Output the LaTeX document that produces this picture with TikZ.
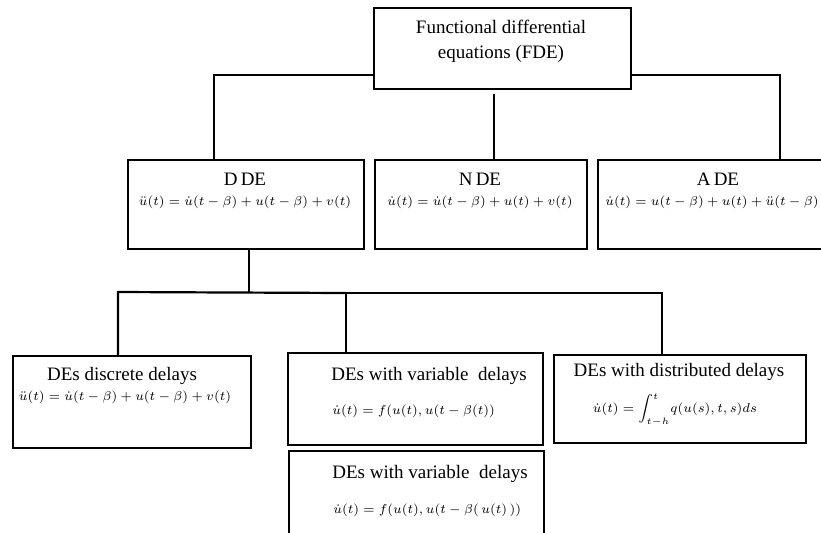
\documentclass[tikz,border=0pt]{standalone}
\usepackage{amsmath}
\usepackage{graphicx}
\usepackage{fontspec}
\setmainfont{Liberation Serif}
\usepackage{tikz}
\usetikzlibrary{positioning,calc}
\newcommand{\eqsmall}[1]{\scalebox{0.92}{$#1$}}

\begin{document}
\begin{tikzpicture}[
    x=0.5pt, y=-0.5pt,
    box/.style={draw, line width=1.1pt, rectangle, anchor=north west, inner sep=0pt},
    head/.style={anchor=base, inner sep=0pt, font=\fontsize{9.5}{12.5}\selectfont},
    eqn/.style={anchor=base, inner sep=0pt, font=\fontsize{7}{8.5}\selectfont},
    link/.style={line width=1.1pt}
]
    \useasboundingbox (0,0) rectangle (821,532);
    \clip (0,0) rectangle (821,532);

    % Boxes
    \node[box, minimum width=128.5pt, minimum height=40.5pt] (fde) at (373,7) {};
    \node[box, minimum width=118pt, minimum height=44.5pt] (dde) at (127,159) {};
    \node[box, minimum width=106pt, minimum height=44.5pt] (nde) at (374,159) {};
    \node[box, minimum width=117.5pt, minimum height=44.5pt] (ade) at (597,159) {};
    \node[box, minimum width=119pt, minimum height=46pt] (disc) at (12,355) {};
    \node[box, minimum width=127.5pt, minimum height=46pt] (var) at (287,352) {};
    \node[box, minimum width=127.5pt, minimum height=50pt] (varu) at (288,450) {};
    \node[box, minimum width=126pt, minimum height=44pt] (dist) at (553,354) {};

    % Texts
    \node[inner sep=0pt, align=center, font=\fontsize{9.5}{12.5}\selectfont] (fdet) at (501,41)
        {Functional differential\\equations (FDE)};
    \node[head] (ddet) at (245,185) {D\,DE};
    \node[eqn] (ddeq) at (245,205) {\eqsmall{\ddot{u}(t)=\dot{u}(t-\beta)+u(t-\beta)+v(t)}};
    \node[head] (ndet) at (480,185) {N\,DE};
    \node[eqn] (ndeq) at (480,205) {\eqsmall{\dot{u}(t)=\dot{u}(t-\beta)+u(t)+v(t)}};
    \node[head] (adet) at (718,185) {A\,DE};
    \node[eqn] (adeq) at (712,205) {\eqsmall{\dot{u}(t)=u(t-\beta)+u(t)+\ddot{u}(t-\beta)}};
    \node[head] (disct) at (122,380) {DEs discrete delays};
    \node[eqn] (disceq) at (125,400) {\eqsmall{\ddot{u}(t)=\dot{u}(t-\beta)+u(t-\beta)+v(t)}};
    \node[head, anchor=base west] (vart) at (331,380) {DEs with variable\ \ delays};
    \node[eqn, anchor=base west] (vareq) at (332,414) {\eqsmall{\dot{u}(t)=f(u(t),u(t-\beta(t))}};
    \node[head, anchor=base west] (varut) at (332,478) {DEs with variable\ \ delays};
    \node[eqn, anchor=base west] (varueq) at (333,513) {\eqsmall{\dot{u}(t)=f(u(t),u(t-\beta(\,u(t)\,))}};
    \node[head] (distt) at (679,376) {DEs with distributed delays};
    \node[eqn] (disteq) at (675,412) {\eqsmall{\dot{u}(t)=\displaystyle\int_{t-h}^{t}\!q(u(s),t,s)ds}};

    % Connections
    \coordinate (jl) at (214,75);
    \coordinate (jr) at (780,75);
    \coordinate (jm) at (494,94);
    \draw[link] (fde.west |- jl) -- (jl) -- (jl |- dde.north);
    \draw[link] (fde.east |- jr) -- (jr) -- (jr |- ade.north);
    \draw[link] (jm) -- (jm |- nde.north);

    \coordinate (jd) at (249,292);
    \coordinate (ja) at (118,292);
    \coordinate (jb) at (346,293);
    \coordinate (jc) at (662,293);
    \draw[link] (jd |- dde.south) -- (jd);
    \draw[link] (jb) -- (ja) -- (ja |- disc.north);
    \draw[link] (jb |- var.north) -- (jb) -- (jc) -- (jc |- dist.north);
\end{tikzpicture}
\end{document}
